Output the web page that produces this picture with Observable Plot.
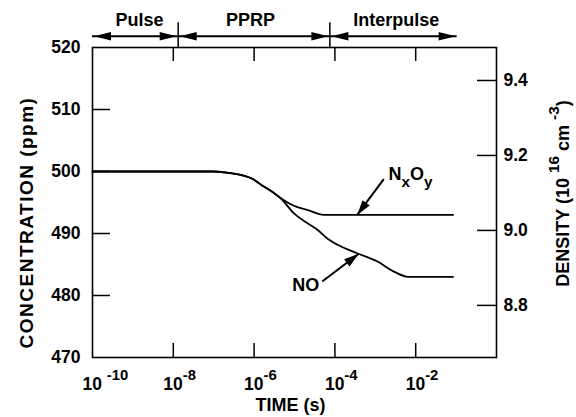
<!DOCTYPE html>
<html><head><meta charset="utf-8">
<script src="https://cdn.jsdelivr.net/npm/d3@7"></script>
<script src="https://cdn.jsdelivr.net/npm/@observablehq/plot@0.6"></script>
<style>html,body{margin:0;padding:0;background:#fff;}</style>
</head><body><div id="chart"></div>
<script>
// ---- data ----
const noTime = [1e-10, 1.0e-7, 2.6e-7, 9.0e-7, 1.74e-6, 3.1e-6, 4.5e-6, 9.6e-6, 2.06e-5, 3.7e-5, 6.6e-5, 1.16e-4, 3.6e-4, 1.13e-3, 2.8e-3, 6.6e-3, 0.084];
const noPpm  = [500, 500, 499.74, 498.82, 497.58, 496.52, 495.71, 493.29, 491.68, 490.6, 489.15, 488.18, 486.81, 485.48, 483.9, 483.0, 483.0];
const nxoyTime = [1e-10, 1.0e-7, 2.6e-7, 9.0e-7, 1.74e-6, 3.1e-6, 4.5e-6, 9.6e-6, 2.06e-5, 5.3e-5, 0.084];
const nxoyPpm  = [500, 500, 499.74, 498.82, 497.58, 496.52, 495.71, 494.47, 493.82, 493.0, 493.0];

const ppmTicks = [470, 480, 490, 500, 510, 520];
const densityTicks = [8.8, 9.0, 9.2, 9.4];
const densityDomain = [8.661, 9.488];
const timeTicks = [1e-10, 1e-8, 1e-6, 1e-4, 1e-2];
const timeTickLabels = ["10 ^{-10}", "10^{-8}", "10^{-6}", "10^{-4}", "10^{-2}"];

const phaseNames = ["Pulse", "PPRP", "Interpulse"];
const phaseStart = [1e-10, 1.32e-8, 7.5e-5];
const phaseEnd = [1.32e-8, 7.5e-5, 0.106];
const phaseLabelTime = [1.46e-9, 8.15e-7, 3.3e-3];
const phaseSeparators = [1.32e-8, 7.5e-5];

const seriesLabels = ["N_{x}O_{y}", "NO"];
const labelTime = [2.12e-3, 8.8e-6];
const labelPpm = [498.66, 480.65];
const pointerFromTime = [1.62e-3, 4.85e-5];
const pointerFromPpm = [498.77, 482.26];
const pointerToTime = [3.56e-4, 3.9e-4];
const pointerToPpm = [493.0, 486.73];

// ---- layout ----
const W = 576, H = 417, mL = 92, mR = 80, mT = 47, mB = 60;
const xDomain = [1e-10, 1], yDomain = [470, 520];
const sx = d3.scaleLog().domain(xDomain).range([mL, W - mR]);
const sy = d3.scaleLinear().domain(yDomain).range([H - mB, mT]);
const toPpm = d3.scaleLinear().domain(densityDomain).range(yDomain);

const noData = noTime.map((t, i) => ({t, c: noPpm[i]}));
const nxoyData = nxoyTime.map((t, i) => ({t, c: nxoyPpm[i]}));
const idx3 = phaseNames.map((_, i) => i);
const idx2 = seriesLabels.map((_, i) => i);
const angle = i => Math.atan2(sy(pointerToPpm[i]) - sy(pointerFromPpm[i]), sx(pointerToTime[i]) - sx(pointerFromTime[i])) * 180 / Math.PI;

const head = {draw(ctx) { ctx.moveTo(0, 0); ctx.lineTo(-17, -4.2); ctx.lineTo(-17, 4.2); ctx.closePath(); }};
const head2 = {draw(ctx) { ctx.moveTo(0, 0); ctx.lineTo(-15, -4.5); ctx.lineTo(-15, 4.5); ctx.closePath(); }};
const innerW = W - mL - mR, innerH = H - mT - mB;

const chart = Plot.plot({
  width: W, height: H,
  marginLeft: mL, marginRight: mR, marginTop: mT, marginBottom: mB,
  x: {type: "log", domain: xDomain, axis: null},
  y: {domain: yDomain, axis: null},
  style: {fontFamily: "'Liberation Sans', Arial, Helvetica, sans-serif", fontWeight: "bold", fontSize: "17px", color: "black", background: "white", overflow: "visible"},
  marks: [
    Plot.frame({stroke: "black", strokeWidth: 1.6}),
    // ticks (inward)
    Plot.tickX(timeTicks.slice(1), {x: d => d, insetTop: innerH - 14, strokeWidth: 1.5}),
    Plot.tickX(timeTicks.slice(1), {x: d => d, insetBottom: innerH - 14, strokeWidth: 1.5}),
    Plot.tickY(ppmTicks.slice(1, -1), {y: d => d, insetRight: innerW - 18, strokeWidth: 1.5}),
    Plot.tickY(densityTicks, {y: d => toPpm(d), insetLeft: innerW - 19, strokeWidth: 1.5}),
    // tick labels
    Plot.text(ppmTicks, {y: d => d, text: d => String(d), frameAnchor: "left", textAnchor: "end", dx: -12, lineAnchor: "middle", fontSize: 17.5}),
    Plot.text(densityTicks, {y: d => toPpm(d), text: d => d.toFixed(1), frameAnchor: "right", textAnchor: "start", dx: 7, lineAnchor: "middle", fontSize: 17.5}),
    Plot.text(timeTicks, {x: d => d, text: (d, i) => timeTickLabels[i], frameAnchor: "bottom", textAnchor: "start", dx: -10, dy: 32, lineAnchor: "bottom", fontSize: 17.5}),
    // axis titles
    Plot.text(["TIME (s)"], {frameAnchor: "bottom", textAnchor: "middle", dx: -4, dy: 53, lineAnchor: "bottom", fontSize: 18}),
    Plot.text(["CONCENTRATION (ppm)"], {frameAnchor: "left", textAnchor: "middle", dx: -66, dy: 20, rotate: -90, lineAnchor: "middle", fontSize: 19}),
    Plot.text(["DENSITY (10 ^{16} cm ^{-3})"], {frameAnchor: "right", textAnchor: "middle", dx: 67, dy: -9, rotate: -90, lineAnchor: "middle", fontSize: 18}),
    // phase annotations
    Plot.ruleX(phaseSeparators, {x: d => d, y1: () => 520, y2: () => 524, strokeWidth: 1.5}),
    Plot.ruleY(idx3, {x1: i => phaseStart[i], x2: i => phaseEnd[i], y: () => 520, dy: -11.3, strokeWidth: 2}),
    Plot.dot(idx3, {x: i => phaseStart[i], y: () => 520, dy: -11.3, dx: 1.5, symbol: head, rotate: 180, fill: "black", stroke: "none", r: 3}),
    Plot.dot(idx3, {x: i => phaseEnd[i], y: () => 520, dy: -11.3, dx: -1.5, symbol: head, rotate: 0, fill: "black", stroke: "none", r: 3}),
    Plot.text(idx3, {x: i => phaseLabelTime[i], y: () => 520, text: i => phaseNames[i], dy: -22, lineAnchor: "bottom", fontSize: 18}),
    // data lines
    Plot.line(nxoyData, {x: "t", y: "c", curve: "monotone-x", stroke: "black", strokeWidth: 1.8}),
    Plot.line(noData, {x: "t", y: "c", curve: "monotone-x", stroke: "black", strokeWidth: 1.8}),
    // series labels and pointers
    Plot.link(idx2, {x1: i => pointerFromTime[i], y1: i => pointerFromPpm[i], x2: i => pointerToTime[i], y2: i => pointerToPpm[i], stroke: "black", strokeWidth: 2}),
    Plot.dot(idx2, {x: i => pointerToTime[i], y: i => pointerToPpm[i], symbol: head2, rotate: i => angle(i), fill: "black", stroke: "none", r: 3}),
    Plot.text(idx2, {x: i => labelTime[i], y: i => labelPpm[i], text: i => seriesLabels[i], textAnchor: "start", lineAnchor: "bottom", fontSize: 18})
  ]
});
document.getElementById("chart").appendChild(chart);

// super/subscript markup -> tspans
function richText(root) {
  root.querySelectorAll("text").forEach(el => {
    const s = el.textContent;
    if (s === "CONCENTRATION (ppm)") el.style.letterSpacing = "1.5px";
    if (!/[\^_]\{/.test(s)) return;
    const fs = parseFloat(getComputedStyle(el).fontSize);
    while (el.firstChild) el.removeChild(el.firstChild);
    const re = /([\^_])\{([^}]*)\}/g;
    let last = 0, m, shift = 0;
    const add = (txt, target, small) => {
      const ts = document.createElementNS("http://www.w3.org/2000/svg", "tspan");
      const dy = target - shift;
      if (dy) ts.setAttribute("dy", dy);
      if (small) ts.setAttribute("font-size", fs * 0.85);
      ts.textContent = txt;
      el.appendChild(ts);
      shift = target;
    };
    while ((m = re.exec(s))) {
      if (m.index > last) add(s.slice(last, m.index), 0, false);
      add(m[2], m[1] === "^" ? -0.55 * fs : 0.38 * fs, true);
      last = re.lastIndex;
    }
    if (last < s.length) add(s.slice(last), 0, false);
  });
}
richText(chart);
</script>
</body></html>
